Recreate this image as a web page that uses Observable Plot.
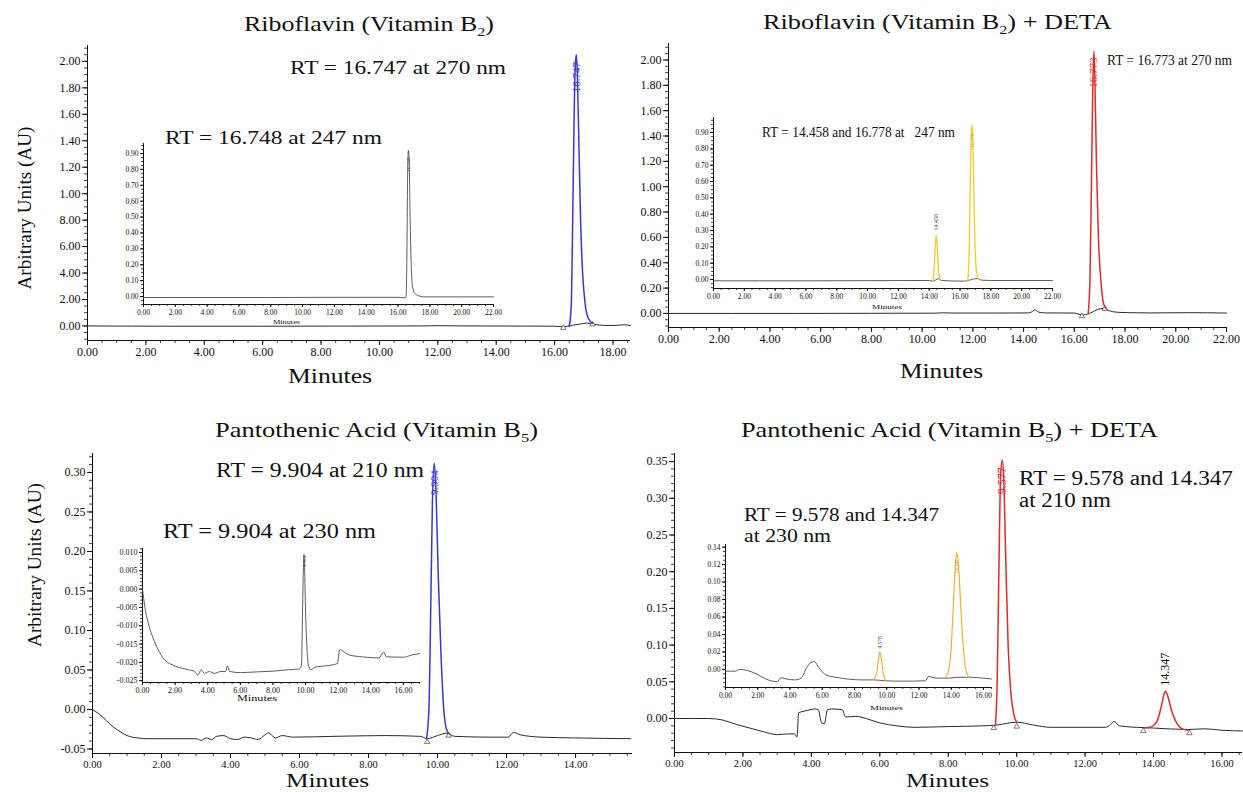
<!DOCTYPE html>
<html><head><meta charset="utf-8">
<script src="https://cdn.jsdelivr.net/npm/d3@7"></script>
<script src="https://cdn.jsdelivr.net/npm/@observablehq/plot@0.6"></script>
<style>
body{margin:0;background:#fff;}
#fig{position:relative;width:1243px;height:792px;overflow:hidden;background:#fff;font-family:"Liberation Serif","Times New Roman",serif;}
</style></head><body><div id="fig"></div>
<script>
// ---------------- DATA ----------------
// Panel titles: [text, subscript, tail]
const panelTitles = [
  ["Riboflavin (Vitamin B", "2", ")"],
  ["Riboflavin (Vitamin B", "2", ") + DETA"],
  ["Pantothenic Acid (Vitamin B", "5", ")"],
  ["Pantothenic Acid (Vitamin B", "5", ") + DETA"]
];
const rtNotes = [
  "RT = 16.747 at 270 nm", "RT = 16.748 at 247 nm",
  "RT = 16.773 at 270 nm", "RT = 14.458 and 16.778 at   247 nm",
  "RT = 9.904 at 210 nm", "RT = 9.904 at 230 nm",
  "RT = 9.578 and 14.347", "at 210 nm", "RT = 9.578 and 14.347", "at 230 nm"
];
const xTitle = "Minutes";
const yTitle = "Arbitrary Units (AU)";
// Y tick labels of the riboflavin panel as printed (0 .. 2.0 step 0.2)
const riboYTickLabels = ["0.00","2.00","4.00","6.00","8.00","1.00","1.20","1.40","1.60","1.80","2.00"];

// --- Riboflavin, 270 nm (main) [minutes, AU]
const riboBase270 = [[0,0.0],[3,-0.002],[6,-0.002],[9,-0.001],[11.5,0.0],[12,0.002],[13,0.0],[15,-0.001],[16,-0.002],[16.3,-0.006],[16.6,0.005],[16.9,0.015],[17.1,0.022],[17.35,0.012],[17.7,0.004],[18.1,0.004],[18.35,0.009],[18.6,0.004]];
const riboPeak270 = [[16.5,-0.004],[16.57,0.15],[16.62,0.8],[16.67,1.6],[16.71,1.98],[16.747,2.05],[16.78,1.9],[16.83,1.4],[16.89,0.8],[16.96,0.4],[17.05,0.16],[17.15,0.06],[17.3,0.02]];
const riboPeakLabel270 = [[16.747, 1.88, "16.747"]];
const riboMarks270 = [[16.3,-0.014],[17.3,0.012]];
// --- Riboflavin, 247 nm (inset)
const riboInset247 = [[0,-0.006],[4,-0.006],[8,-0.006],[12,-0.005],[16,-0.005],[16.35,-0.008],[16.5,-0.004],[16.56,0.3],[16.6,0.75],[16.65,0.92],[16.7,0.85],[16.75,0.55],[16.82,0.22],[16.9,0.07],[17.05,0.02],[17.3,0.005],[17.6,-0.002],[18,-0.002],[22,-0.002]];
const riboInsetLabel247 = [[16.65, 0.83, "16.748"]];

// --- Riboflavin + DETA, 270 nm (main)
const detaRiboBase270 = [[0,0.0],[5,0.0],[8,0.001],[10.5,0.002],[10.8,0.005],[11.2,0.003],[13,0.003],[14.2,0.004],[14.35,0.015],[14.45,0.028],[14.6,0.01],[14.9,0.004],[16,0.003],[16.3,-0.012],[16.6,0.0],[16.9,0.03],[17.15,0.04],[17.4,0.02],[17.8,0.008],[18.5,0.005],[19,0.004],[20.5,0.006],[22,0.003]];
const detaRiboPeak270 = [[16.55,0.0],[16.62,0.3],[16.68,1.1],[16.73,1.8],[16.773,2.07],[16.81,1.85],[16.87,1.2],[16.95,0.6],[17.05,0.25],[17.15,0.08],[17.25,0.04]];
const detaRiboLabel270 = [[16.773, 1.9, "16.773"]];
const detaRiboMarks270 = [[16.3,-0.022],[17.2,0.036]];
// --- Riboflavin + DETA, 247 nm (inset)
const detaRiboInsetBase = [[0,-0.008],[6,-0.008],[10,-0.007],[14,-0.006],[14.2,-0.01],[14.6,0.004],[14.8,-0.006],[16.3,-0.01],[16.6,-0.004],[17.1,0.006],[17.4,-0.004],[18,-0.006],[22,-0.006]];
const detaRiboInsetPeakA = [[14.25,-0.01],[14.33,0.08],[14.4,0.22],[14.458,0.27],[14.52,0.2],[14.6,0.06],[14.7,0.0]];
const detaRiboInsetPeakB = [[16.5,-0.01],[16.6,0.2],[16.68,0.7],[16.74,0.92],[16.778,0.945],[16.83,0.85],[16.9,0.5],[16.98,0.2],[17.06,0.05],[17.2,0.0]];
const detaRiboInsetLabels = [[14.458, 0.35, "14.458"]];
const detaRiboInsetLabelsB = [[16.778, 0.85, "16.778"]];

// --- Pantothenic acid, 210 nm (main)
const pantoBase210 = [[0,0.0],[0.2,-0.006],[0.4,-0.014],[0.6,-0.022],[0.8,-0.028],[1.0,-0.033],[1.3,-0.036],[1.6,-0.037],[2.5,-0.037],[3.0,-0.037],[3.15,-0.039],[3.3,-0.036],[3.45,-0.038],[3.6,-0.034],[3.8,-0.033],[4.0,-0.037],[4.2,-0.038],[4.4,-0.035],[4.6,-0.036],[4.8,-0.038],[5.0,-0.032],[5.1,-0.0295],[5.3,-0.036],[5.5,-0.033],[5.8,-0.035],[7,-0.034],[8.5,-0.033],[9.5,-0.034],[9.7,-0.037],[10.0,-0.033],[10.25,-0.03],[10.5,-0.034],[11.5,-0.035],[12.05,-0.035],[12.2,-0.029],[12.4,-0.032],[13,-0.035],[14,-0.036],[15.6,-0.037]];
const pantoPeak210 = [[9.68,-0.037],[9.75,0.0],[9.8,0.12],[9.85,0.26],[9.904,0.312],[9.96,0.27],[10.02,0.17],[10.1,0.07],[10.18,0.0],[10.26,-0.025],[10.34,-0.031]];
const pantoLabel210 = [[9.904, 0.287, "9.904"]];
const pantoMarks210 = [[9.7,-0.041],[10.32,-0.033]];
// --- Pantothenic acid, 230 nm (inset)
const pantoInset230 = [[0,0.0],[0.15,-0.005],[0.4,-0.01],[0.8,-0.015],[1.3,-0.019],[2.0,-0.021],[2.8,-0.022],[3.2,-0.0225],[3.4,-0.0235],[3.6,-0.022],[3.8,-0.023],[4.1,-0.0225],[4.4,-0.023],[4.8,-0.0225],[5.1,-0.0225],[5.2,-0.021],[5.35,-0.0225],[6,-0.0228],[7,-0.0226],[8,-0.0224],[9,-0.022],[9.6,-0.0218],[9.75,-0.021],[9.82,-0.005],[9.87,0.006],[9.904,0.0095],[9.94,0.006],[10.0,-0.006],[10.1,-0.017],[10.2,-0.0212],[10.35,-0.022],[10.6,-0.0213],[11.5,-0.0208],[11.95,-0.0203],[12.1,-0.0165],[12.3,-0.017],[12.7,-0.018],[13.5,-0.0185],[14.5,-0.0188],[14.8,-0.0172],[14.95,-0.0185],[16,-0.0186],[16.5,-0.018],[17,-0.0176]];
const pantoInsetLabel230 = [[9.904, 0.0075, "9.904"]];

// --- Pantothenic acid + DETA, 210 nm (main)
const detaPantoBase210 = [[0,0.0],[0.5,0.0],[1.0,0.0],[1.4,-0.002],[1.8,-0.008],[2.2,-0.013],[2.6,-0.018],[3.0,-0.022],[3.3,-0.021],[3.5,-0.021],[3.58,-0.025],[3.63,0.008],[3.8,0.01],[4.1,0.013],[4.2,0.012],[4.3,-0.006],[4.38,-0.007],[4.47,0.012],[4.6,0.013],[4.9,0.012],[5.0,0.002],[5.3,0.003],[5.6,0.0],[6.0,-0.006],[6.5,-0.01],[7.0,-0.012],[8.0,-0.011],[9.0,-0.01],[9.4,-0.009],[10.0,-0.005],[10.5,-0.009],[11.0,-0.012],[12.6,-0.012],[12.75,-0.008],[12.85,-0.004],[13.0,-0.01],[13.5,-0.012],[14.0,-0.013],[15.0,-0.015],[15.5,-0.014],[16.0,-0.016],[16.6,-0.017]];
const detaPantoPeakA = [[9.38,-0.009],[9.43,0.05],[9.48,0.2],[9.53,0.33],[9.578,0.352],[9.62,0.33],[9.68,0.22],[9.75,0.1],[9.83,0.035],[9.92,0.005],[10.0,-0.005]];
const detaPantoPeakB = [[13.75,-0.013],[13.95,-0.011],[14.1,-0.004],[14.22,0.015],[14.3,0.032],[14.347,0.037],[14.42,0.03],[14.52,0.012],[14.65,-0.004],[14.8,-0.013],[15.0,-0.016]];
const detaPantoLabelA = [[9.578, 0.324, "9.577"]];
const detaPantoLabelB = [[14.347, 0.067, "14.347"]];
const detaPantoMarks = [[9.33,-0.013],[10.0,-0.011],[13.7,-0.017],[15.05,-0.02]];
// --- Pantothenic acid + DETA, 230 nm (inset)
const detaPantoInsetBase = [[0,-0.002],[0.6,-0.002],[0.9,0.0],[1.3,-0.001],[1.9,-0.005],[2.5,-0.011],[3.2,-0.014],[3.45,-0.0095],[3.8,-0.011],[4.3,-0.012],[4.7,-0.01],[5.0,0.001],[5.3,0.008],[5.5,0.009],[5.8,0.002],[6.2,-0.006],[7.0,-0.0095],[8.5,-0.012],[9.2,-0.012],[9.9,-0.013],[11,-0.0135],[12.4,-0.013],[12.6,-0.008],[12.8,-0.009],[13.2,-0.01],[13.8,-0.01],[14.4,-0.009],[15.1,-0.009],[16.5,-0.011]];
const detaPantoInsetPeakA = [[9.15,-0.012],[9.35,-0.006],[9.48,0.01],[9.578,0.02],[9.68,0.01],[9.8,-0.006],[9.95,-0.013]];
const detaPantoInsetPeakB = [[13.6,-0.01],[13.8,-0.004],[14.0,0.025],[14.15,0.08],[14.28,0.125],[14.347,0.134],[14.45,0.12],[14.6,0.07],[14.75,0.025],[14.9,0.0],[15.1,-0.009]];
const detaPantoInsetLabelA = [[9.578, 0.031, "9.578"]];
const detaPantoInsetLabelB = [[14.347, 0.118, "14.347"]];

// ---------------- RENDER ----------------
const fig = document.getElementById("fig");
const FONT = "'Liberation Serif','Times New Roman',serif";
const BLUE = "#3636d8", RED = "#e12a2a", YEL = "#f0cb2c", ORG = "#e8b33a", INK = "#2a2a2a", GRAY = "#4a4a4a";
const px = d => d[0], py = d => d[1], pt = d => d[2];

function steps(lo, hi, step) {
  const n = Math.floor((hi - lo) / step + 1e-6);
  return d3.range(0, n + 1).map(i => +(lo + i * step).toFixed(6));
}

function chrom(o) {
  const yFmt = o.yFmt || (d => d.toFixed(o.yDec ?? 2));
  const marks = [
    Plot.axisX({ticks: steps(o.x[0], o.x[1], o.xMinorStep), tickSize: o.minor, tickFormat: () => "", label: null, strokeWidth: 0.8}),
    Plot.axisX({ticks: o.xMajor, tickSize: o.major, tickPadding: o.pad, tickFormat: d => d.toFixed(2), label: null, fontSize: o.xfs ?? o.fs}),
    Plot.axisY({ticks: steps(o.yMinorLo, o.y[1], o.yMinorStep), tickSize: o.minor, tickFormat: () => "", label: null, strokeWidth: 0.8}),
    Plot.axisY({ticks: o.yMajor, tickSize: o.major, tickPadding: o.pad, tickFormat: yFmt, label: null, fontSize: o.fs}),
    Plot.ruleX([o.x[0]], {stroke: "#111", strokeWidth: 1}),
    Plot.ruleY([o.y[0]], {stroke: "#111", strokeWidth: 1}),
    ...o.marks
  ];
  const svg = Plot.plot({
    width: o.w, height: o.h,
    marginTop: o.m[0], marginRight: o.m[1], marginBottom: o.m[2], marginLeft: o.m[3],
    x: {domain: o.x}, y: {domain: o.y},
    style: {fontFamily: FONT, color: "#111", background: "transparent", overflow: "visible"},
    marks
  });
  svg.style.position = "absolute";
  svg.style.left = o.left + "px";
  svg.style.top = o.top + "px";
  fig.appendChild(svg);
}
const line = (data, stroke, w) => Plot.line(data, {x: px, y: py, stroke, strokeWidth: w, curve: "monotone-x"});
const plabel = (data, fill, fs) => Plot.text(data, {x: px, y: py, text: pt, rotate: -90, fill, fontSize: fs, fontFamily: FONT});
const tri = data => Plot.dot(data, {x: px, y: py, symbol: "triangle", r: 2, stroke: "#444", fill: "white", strokeWidth: 0.7});

const riboYMap = new Map(riboYTickLabels.map((s, i) => [i * 2, s]));

// Top-left main
chrom({left: 0, top: 0, w: 640, h: 400, m: [45, 10, 60, 87], x: [0, 18.6], y: [-0.11, 2.12],
  xMajor: steps(0, 18, 2), xMinorStep: 0.5, yMajor: steps(0, 2, 0.2), yMinorStep: 0.05, yMinorLo: -0.1,
  yFmt: d => riboYMap.get(Math.round(d * 10)), major: 5, minor: 3, pad: 2, fs: 12,
  marks: [line(riboBase270, INK, 1), tri(riboMarks270), line(riboPeak270, BLUE, 1.5), plabel(riboPeakLabel270, BLUE, 11)]});
// Top-left inset
chrom({left: 100, top: 130, w: 400, h: 200, m: [13, 7, 26, 43], x: [0, 22], y: [-0.05, 0.963],
  xMajor: steps(0, 22, 2), xMinorStep: 0.5, yMajor: steps(0, 0.9, 0.1), yMinorStep: 0.025, yMinorLo: -0.05,
  major: 3, minor: 2, pad: 2, fs: 7.5,
  marks: [line(riboInset247, GRAY, 0.9), plabel(riboInsetLabel247, GRAY, 5)]});

// Top-right main
chrom({left: 620, top: 0, w: 623, h: 400, m: [43, 17, 73, 48], x: [0, 22], y: [-0.111, 2.13],
  xMajor: steps(0, 22, 2), xMinorStep: 0.5, yMajor: steps(0, 2, 0.2), yMinorStep: 0.05, yMinorLo: -0.1,
  major: 5, minor: 3, pad: 2, fs: 12,
  marks: [line(detaRiboBase270, INK, 1), tri(detaRiboMarks270), line(detaRiboPeak270, RED, 1.5), plabel(detaRiboLabel270, RED, 11)]});
// Top-right inset
chrom({left: 690, top: 100, w: 380, h: 220, m: [17, 18, 32, 23], x: [0, 22], y: [-0.055, 0.992],
  xMajor: steps(0, 22, 2), xMinorStep: 0.5, yMajor: steps(0, 0.9, 0.1), yMinorStep: 0.025, yMinorLo: -0.05,
  major: 3, minor: 2, pad: 2, fs: 7.5,
  marks: [line(detaRiboInsetBase, GRAY, 0.9), line(detaRiboInsetPeakA, YEL, 1.3), line(detaRiboInsetPeakB, YEL, 1.3),
    plabel(detaRiboInsetLabels, GRAY, 6), plabel(detaRiboInsetLabelsB, "#c9a21c", 5)]});

// Bottom-left main
chrom({left: 0, top: 400, w: 640, h: 392, m: [53, 8, 39, 92], x: [0, 15.65], y: [-0.0557, 0.324],
  xMajor: steps(0, 14, 2), xMinorStep: 0.5, yMajor: steps(-0.05, 0.3, 0.05), yMinorStep: 0.01, yMinorLo: -0.05,
  major: 5, minor: 3, pad: 2, fs: 12, xfs: 10.5,
  marks: [line(pantoBase210, INK, 1), tri(pantoMarks210), line(pantoPeak210, BLUE, 1.5), plabel(pantoLabel210, BLUE, 11)]});
// Bottom-left inset
chrom({left: 90, top: 530, w: 340, h: 180, m: [18, 10, 28, 52], x: [0, 17.05], y: [-0.0255, 0.0111],
  xMajor: steps(0, 16, 2), xMinorStep: 0.5, yMajor: steps(-0.025, 0.01, 0.005), yMinorStep: 0.001, yMinorLo: -0.025,
  yDec: 3, major: 3, minor: 2, pad: 2, fs: 8,
  marks: [line(pantoInset230, GRAY, 0.9), plabel(pantoInsetLabel230, GRAY, 5)]});

// Bottom-right main
chrom({left: 620, top: 400, w: 623, h: 392, m: [53, 1, 40, 54], x: [0, 16.6], y: [-0.0463, 0.361],
  xMajor: steps(0, 16, 2), xMinorStep: 0.5, yMajor: steps(0, 0.35, 0.05), yMinorStep: 0.01, yMinorLo: -0.04,
  major: 5, minor: 3, pad: 2, fs: 12, xfs: 10.5,
  marks: [line(detaPantoBase210, INK, 1), tri(detaPantoMarks), line(detaPantoPeakA, RED, 1.5), line(detaPantoPeakB, RED, 1.5),
    plabel(detaPantoLabelA, RED, 12), plabel(detaPantoLabelB, "#111", 12)]});
// Bottom-right inset
chrom({left: 690, top: 530, w: 310, h: 190, m: [14, 9, 33, 35], x: [0, 16.5], y: [-0.0207, 0.143],
  xMajor: steps(0, 16, 2), xMinorStep: 0.5, yMajor: steps(0, 0.14, 0.02), yMinorStep: 0.005, yMinorLo: -0.02,
  major: 3, minor: 2, pad: 2, fs: 7.5,
  marks: [line(detaPantoInsetBase, GRAY, 0.9), line(detaPantoInsetPeakA, ORG, 1.2), line(detaPantoInsetPeakB, ORG, 1.2),
    plabel(detaPantoInsetLabelA, GRAY, 5.5), plabel(detaPantoInsetLabelB, "#c08a20", 5)]});

// ---------------- TEXT OVERLAY ----------------
const NS = "http://www.w3.org/2000/svg";
const ov = document.createElementNS(NS, "svg");
ov.setAttribute("width", 1243); ov.setAttribute("height", 792);
ov.style.cssText = "position:absolute;left:0;top:0;pointer-events:none;font-family:" + FONT + ";fill:#111";
fig.appendChild(ov);
function txt(s, x, y, size, len, rotate) {
  const t = document.createElementNS(NS, "text");
  t.setAttribute("x", x); t.setAttribute("y", y);
  t.setAttribute("font-size", size);
  t.style.whiteSpace = "pre";
  if (len) { t.setAttribute("textLength", len); t.setAttribute("lengthAdjust", "spacingAndGlyphs"); }
  if (rotate) { t.setAttribute("text-anchor", "middle"); t.setAttribute("transform", `rotate(${rotate} ${x} ${y})`); }
  if (Array.isArray(s)) {
    t.appendChild(document.createTextNode(s[0]));
    const sub = document.createElementNS(NS, "tspan");
    sub.setAttribute("font-size", size * 0.62); sub.setAttribute("dy", size * 0.25); sub.textContent = s[1];
    const tail = document.createElementNS(NS, "tspan");
    tail.setAttribute("dy", -size * 0.25); tail.textContent = s[2];
    t.appendChild(sub); t.appendChild(tail);
  } else t.textContent = s;
  ov.appendChild(t);
}
// titles
txt(panelTitles[0], 244, 31, 21, 250);
txt(panelTitles[1], 763, 29, 21, 349);
txt(panelTitles[2], 215, 437, 21, 323);
txt(panelTitles[3], 741, 437, 21, 417);
// RT notes
txt(rtNotes[0], 290, 74, 19, 216);
txt(rtNotes[1], 165, 144, 19, 217);
txt(rtNotes[2], 1107, 65, 14, 125);
txt(rtNotes[3], 762, 137, 14, 193);
txt(rtNotes[4], 216, 477, 20, 208);
txt(rtNotes[5], 163, 538, 20, 213);
txt(rtNotes[6], 1019, 485, 20, 214);
txt(rtNotes[7], 1019, 507, 20, 92);
txt(rtNotes[8], 744, 521, 19, 195);
txt(rtNotes[9], 744, 542, 19, 87);
// axis titles
txt(xTitle, 288, 383, 20, 84);
txt(xTitle, 900, 378, 20, 83);
txt(xTitle, 286, 787, 19, 83);
txt(xTitle, 906, 787, 19, 83);
txt(xTitle, 273, 324, 7, 27);
txt(xTitle, 872, 309, 7, 30);
txt(xTitle, 237, 701, 8, 40);
txt(xTitle, 870, 710, 7, 33);
txt(yTitle, 31, 208, 19, 163, -90);
txt(yTitle, 41, 565, 19, 164, -90);
</script></body></html>
